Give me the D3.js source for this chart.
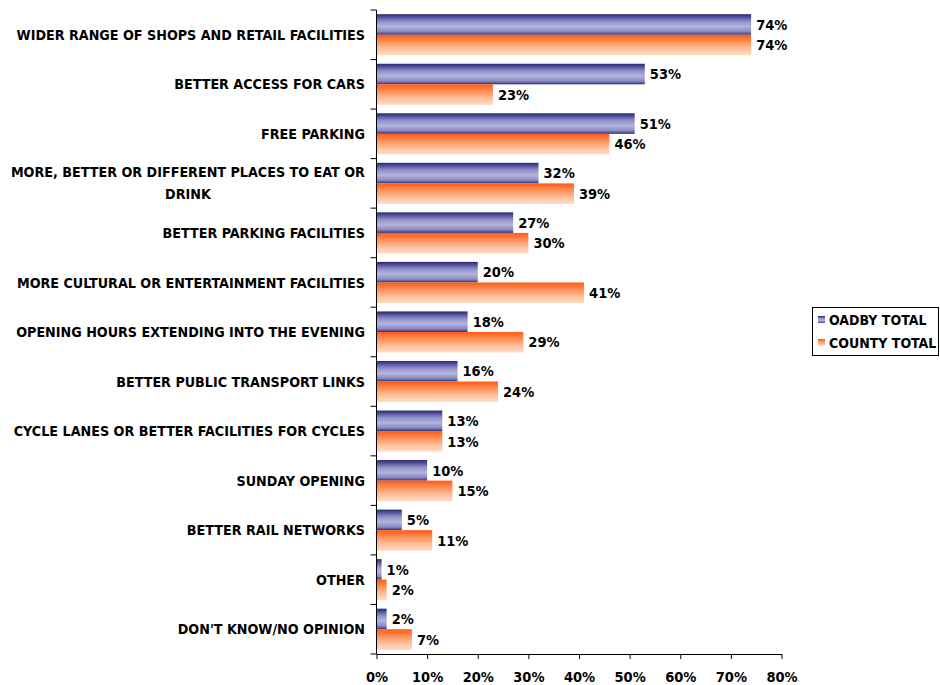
<!DOCTYPE html>
<html>
<head>
<meta charset="utf-8">
<script src="https://cdn.jsdelivr.net/npm/d3@7"></script>
<style>
  html, body { margin: 0; padding: 0; background: #fff; }
  svg { display: block; }
  text { font-family: "DejaVu Sans Condensed", "DejaVu Sans", sans-serif; font-weight: bold; fill: #000; }
</style>
</head>
<body>
<svg id="chart" width="940" height="685"></svg>
<script>
// Survey answers, in the order shown from top to bottom
const categories = [
  ["WIDER RANGE OF SHOPS AND RETAIL FACILITIES"],
  ["BETTER ACCESS FOR CARS"],
  ["FREE PARKING"],
  ["MORE, BETTER OR DIFFERENT PLACES TO EAT OR", "DRINK"],
  ["BETTER PARKING FACILITIES"],
  ["MORE CULTURAL OR ENTERTAINMENT FACILITIES"],
  ["OPENING HOURS EXTENDING INTO THE EVENING"],
  ["BETTER PUBLIC TRANSPORT LINKS"],
  ["CYCLE LANES OR BETTER FACILITIES FOR CYCLES"],
  ["SUNDAY OPENING"],
  ["BETTER RAIL NETWORKS"],
  ["OTHER"],
  ["DON'T KNOW/NO OPINION"]
];
const oadbyTotal  = [74, 53, 51, 32, 27, 20, 18, 16, 13, 10, 5, 1, 2];
const countyTotal = [74, 23, 46, 39, 30, 41, 29, 24, 13, 15, 11, 2, 7];
const seriesNames = ["OADBY TOTAL", "COUNTY TOTAL"];
const xTicks = [0, 10, 20, 30, 40, 50, 60, 70, 80];

const svg = d3.select("#chart");
const plotLeft = 376.5, plotRight = 781.5, plotTop = 10, plotBottom = 654;

const defs = svg.append("defs");
const blue = defs.append("linearGradient").attr("id", "gBlue")
  .attr("x1", 0).attr("y1", 0).attr("x2", 0).attr("y2", 1);
[[0, "#26266a"], [0.12, "#4a4a98"], [0.35, "#9090c8"], [0.6, "#b4b4de"], [0.85, "#8888c0"], [1, "#2e2e74"]]
  .forEach(([o, c]) => blue.append("stop").attr("offset", o).attr("stop-color", c));
const orange = defs.append("linearGradient").attr("id", "gOrange")
  .attr("x1", 0).attr("y1", 0).attr("x2", 0).attr("y2", 1);
[[0, "#ff5a12"], [0.3, "#ff8a50"], [0.7, "#ffc2a0"], [1, "#ffdcc4"]]
  .forEach(([o, c]) => orange.append("stop").attr("offset", o).attr("stop-color", c));
const fills = ["url(#gBlue)", "url(#gOrange)"];

const x = d3.scaleLinear().domain([0, 80]).range([plotLeft, plotRight]);
const y = d3.scaleBand().domain(d3.range(categories.length)).range([plotTop, plotBottom])
  .paddingInner(0.17).paddingOuter(0.085);
const ySub = d3.scaleBand().domain([0, 1]).range([0, y.bandwidth()]);

const rows = categories.map((c, i) => ({ i, values: [oadbyTotal[i], countyTotal[i]] }));

const g = svg.selectAll("g.row").data(rows).join("g")
  .attr("class", "row")
  .attr("transform", d => `translate(0,${y(d.i)})`);

g.selectAll("rect").data(d => d.values.map((v, s) => ({ v, s }))).join("rect")
  .attr("x", x(0))
  .attr("y", d => ySub(d.s))
  .attr("width", d => x(d.v) - x(0))
  .attr("height", ySub.bandwidth())
  .attr("fill", d => fills[d.s]);

g.selectAll("text.val").data(d => d.values.map((v, s) => ({ v, s }))).join("text")
  .attr("class", "val")
  .attr("x", d => x(d.v) + 5)
  .attr("y", d => ySub(d.s) + ySub.bandwidth() / 2)
  .attr("dy", "0.36em")
  .style("font-size", "14.5px")
  .text(d => d.v + "%");

// Category axis: line with ticks between bands
const bandStep = (plotBottom - plotTop) / categories.length;
svg.append("line").attr("x1", plotLeft).attr("x2", plotLeft).attr("y1", plotTop).attr("y2", plotBottom)
  .attr("stroke", "#000").attr("stroke-width", 1);
svg.selectAll("line.ytick").data(d3.range(categories.length + 1)).join("line")
  .attr("class", "ytick")
  .attr("x1", plotLeft - 6).attr("x2", plotLeft)
  .attr("y1", i => plotTop + i * bandStep).attr("y2", i => plotTop + i * bandStep)
  .attr("stroke", "#000");

// Category labels, centred multi-line blocks right-aligned to the axis
const labels = svg.selectAll("text.cat").data(categories).join("text")
  .attr("class", "cat")
  .style("font-size", "14.2px")
  .attr("text-anchor", "middle");
labels.each(function(lines, i) {
  const t = d3.select(this);
  const cy = plotTop + (i + 0.5) * bandStep;
  lines.forEach((ln, k) => {
    t.append("tspan").text(ln).attr("x", 0).attr("dy", "0.36em")
      .attr("y", cy + (k - (lines.length - 1) / 2) * 22);
  });
  const w = this.getBBox().width;
  t.selectAll("tspan").attr("x", 365 - w / 2);
});

// Value axis
const xAxis = d3.axisBottom(x).tickValues(xTicks).tickFormat(d => d + "%").tickSize(5).tickSizeOuter(0);
const ax = svg.append("g").attr("transform", `translate(0,${plotBottom})`).call(xAxis);
ax.select(".domain").attr("stroke", "#000");
ax.selectAll(".tick line").attr("stroke", "#000");
ax.selectAll(".tick text").attr("font-family", null).style("font-size", "14.5px").attr("y", 18);

// Legend
const lg = svg.append("g");
lg.append("rect").attr("x", 812.5).attr("y", 307.5).attr("width", 126).attr("height", 48)
  .attr("fill", "#fff").attr("stroke", "#000");
seriesNames.forEach((n, s) => {
  const cy = 320 + s * 23;
  lg.append("rect").attr("x", 818).attr("y", cy - 4).attr("width", 7).attr("height", 7).attr("fill", fills[s]);
  lg.append("text").attr("x", 829).attr("y", cy).attr("dy", "0.36em").style("font-size", "14px").text(n);
});
</script>
</body>
</html>
